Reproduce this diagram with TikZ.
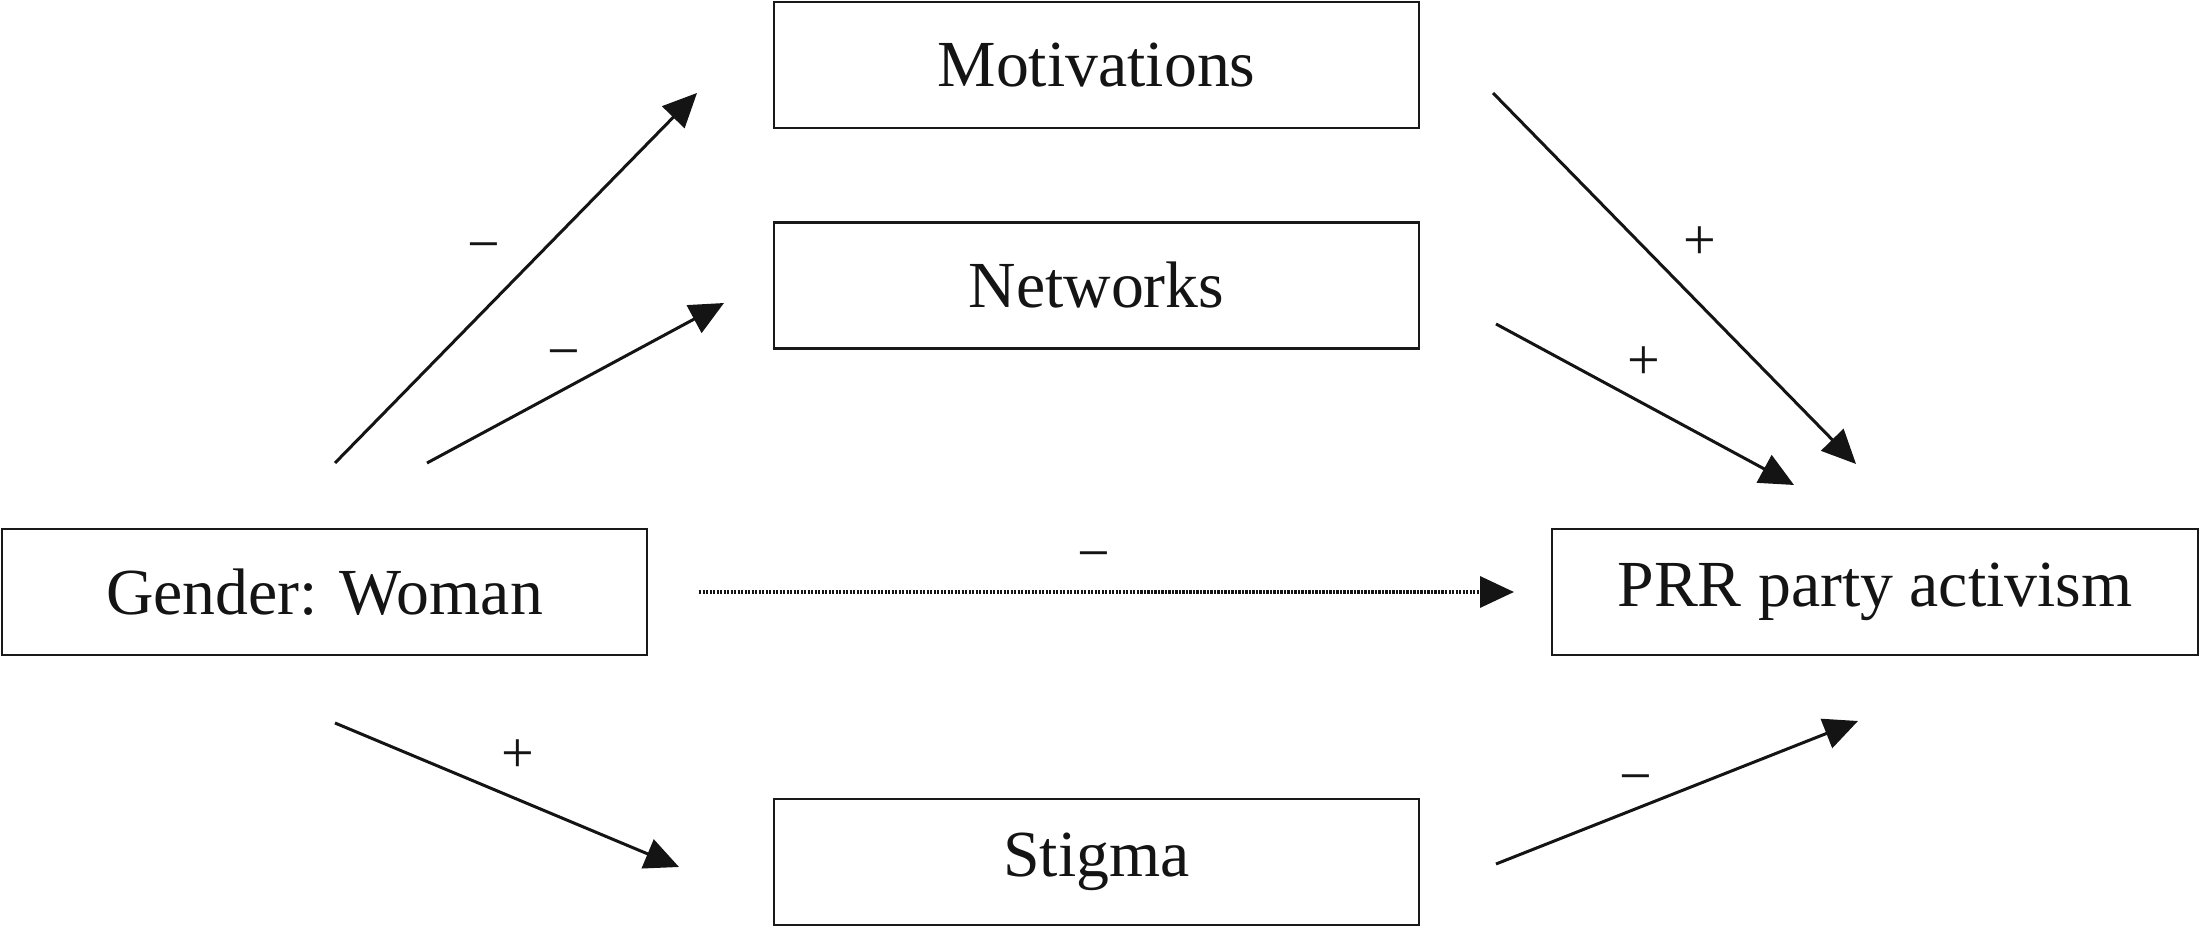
\documentclass[tikz,border=0pt]{standalone}
\usepackage{fontspec}
\setmainfont{Liberation Serif}
\usetikzlibrary{arrows.meta}
\begin{document}
\begin{tikzpicture}[x=0.01cm,y=-0.01cm,
  box/.style={draw=black!90,line width=0.022cm,minimum width=6.45cm,minimum height=1.26cm,inner sep=0pt,
    font=\fontsize{18.7}{22}\selectfont,text=black!92},
  conn/.style={line width=0.03cm,draw=black!92,-{Triangle[length=0.34cm,width=0.31cm,fill=black!92]}},
  dotconn/.style={conn,line width=0.035cm,dash pattern=on 0.022cm off 0.013cm},
  sign/.style={font=\fontsize{16.5}{20}\selectfont,text=black!92,inner sep=0pt}]
\useasboundingbox (0,0) rectangle (2200,928);
% boxes
\node[box] (mot) at (1096.5,65) {Motivations};
\node[box] (net) at (1096.5,285.5) {Networks};
\node[box] (gen) at (324.5,592) {Gender: Woman};
\node[box] (prr) at (1875,592) {PRR party activism};
\node[box] (stig) at (1096.5,862) {Stigma};
% connector endpoints
\coordinate (gm1) at (335,463);  \coordinate (gm2) at (697,93);
\coordinate (gn1) at (427,463);  \coordinate (gn2) at (724,303);
\coordinate (mp1) at (1493,93);  \coordinate (mp2) at (1856,464);
\coordinate (np1) at (1496,324); \coordinate (np2) at (1794,485);
\coordinate (gp1) at (699,592);  \coordinate (gp2) at (1514,592);
\coordinate (gs1) at (335,723);  \coordinate (gs2) at (679,867);
\coordinate (sp1) at (1496,864); \coordinate (sp2) at (1858,721);
% connectors
\draw[conn] (gm1) -- (gm2);
\draw[conn] (gn1) -- (gn2);
\draw[conn] (mp1) -- (mp2);
\draw[conn] (np1) -- (np2);
\draw[dotconn] (gp1) -- (gp2);
\draw[conn] (gs1) -- (gs2);
\draw[conn] (sp1) -- (sp2);
% signs
\node[sign] (l1) at (484,253) {−};
\node[sign] (l2) at (564,360) {−};
\node[sign] (l3) at (1700,243) {+};
\node[sign] (l4) at (1644,363) {+};
\node[sign] (l5) at (1094,562) {−};
\node[sign] (l6) at (518,756) {+};
\node[sign] (l7) at (1636,785) {−};
\end{tikzpicture}
\end{document}
